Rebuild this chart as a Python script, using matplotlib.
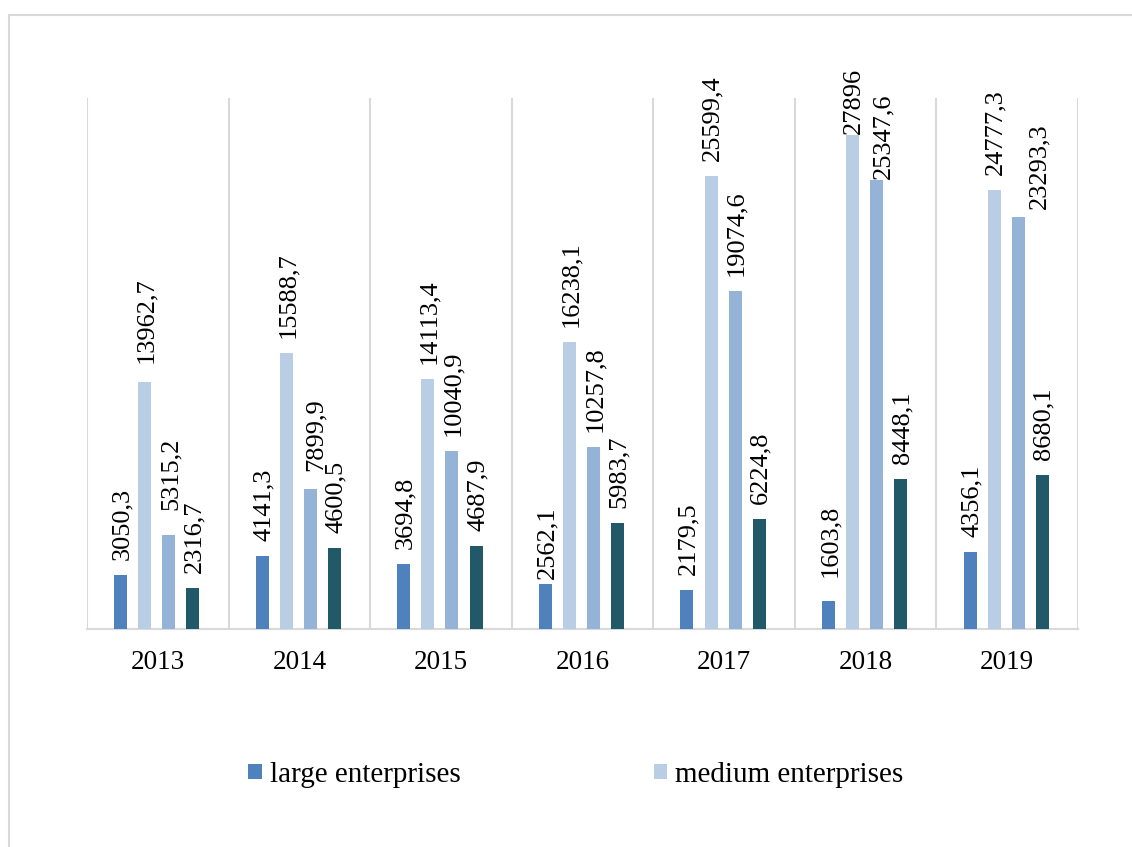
import numpy as np
import matplotlib
matplotlib.use("Agg")
import matplotlib.pyplot as plt
from matplotlib.patches import Rectangle

years = ["2013", "2014", "2015", "2016", "2017", "2018", "2019"]
large = [3050.3, 4141.3, 3694.8, 2562.1, 2179.5, 1603.8, 4356.1]
medium = [13962.7, 15588.7, 14113.4, 16238.1, 25599.4, 27896, 24777.3]
small = [5315.2, 7899.9, 10040.9, 10257.8, 19074.6, 25347.6, 23293.3]
micro = [2316.7, 4600.5, 4687.9, 5983.7, 6224.8, 8448.1, 8680.1]

series = [
    ("large enterprises", large, "#4F81BD"),
    ("medium enterprises", medium, "#B9CDE5"),
    ("small enterprises", small, "#95B3D7"),
    ("micro enterprises", micro, "#215968"),
]

# hand-moved labels in the original: (series, year) -> (dx, dy) in pixels
label_nudge = {
    (1, 0): (0, 4), (2, 0): (0, 10), (2, 1): (4, 3), (0, 3): (0, -10),
    (0, 5): (0, 9), (1, 5): (0, -14), (2, 5): (5, -14), (2, 6): (20, -7),
}

plt.rcParams['font.family'] = ['Liberation Serif', 'DejaVu Serif']


def fmt(v):
    if float(v).is_integer():
        return str(int(v))
    return f"{v:.1f}".replace(".", ",")


fig = plt.figure(figsize=(11.32, 8.47), dpi=100)
ax = fig.add_axes([87 / 1132, 1 - 629 / 847, (1078 - 87) / 1132, (629 - 98) / 847])

# outer chart border (cut off at right and bottom)
fig.patches.append(Rectangle((9 / 1132, -0.05), 1.1, 1 - 15 / 847 + 0.05,
                             transform=fig.transFigure, fill=False,
                             edgecolor="#D9D9D9", linewidth=1.5, zorder=0))

x = np.arange(len(years))
w = 0.092
offsets = [-0.262, -0.092, 0.078, 0.248]
handles = []
px = 0.72  # points per pixel at dpi 100
for si, ((name, vals, col), off) in enumerate(zip(series, offsets)):
    bars = ax.bar(x + off, vals, width=w, color=col, label=name, zorder=3)
    handles.append(bars)
    for yi, (xi, v) in enumerate(zip(x + off, vals)):
        dx, dy = label_nudge.get((si, yi), (0, 0))
        ax.annotate(fmt(v), (xi, v), xytext=(1.5 * px + dx * px, 15 * px + dy * px),
                    textcoords="offset points", rotation=90, ha="center",
                    va="bottom", fontsize=19, color="#000000")

ax.set_xlim(-0.5, len(years) - 0.5)
ax.set_ylim(0, 30000)
ax.set_yticks([])
ax.set_xticks(x)
ax.set_xticklabels(years, fontsize=19.5)
ax.tick_params(axis="x", length=0, pad=15)
for b in np.arange(-0.5, len(years), 1.0):
    ax.axvline(b, color="#D9D9D9", linewidth=1.5, zorder=1)
for s in ["top", "left", "right"]:
    ax.spines[s].set_visible(False)
ax.spines["bottom"].set_color("#D9D9D9")
ax.spines["bottom"].set_linewidth(1.5)

fig.legend(handles[:2], [s[0] for s in series[:2]], loc="center",
           bbox_to_anchor=(576 / 1132, 1 - 775 / 847), ncol=2, frameon=False,
           fontsize=21, handlelength=0.45, handleheight=0.45,
           handletextpad=0.3, columnspacing=6.6)

fig.savefig("out.png", dpi=100)
